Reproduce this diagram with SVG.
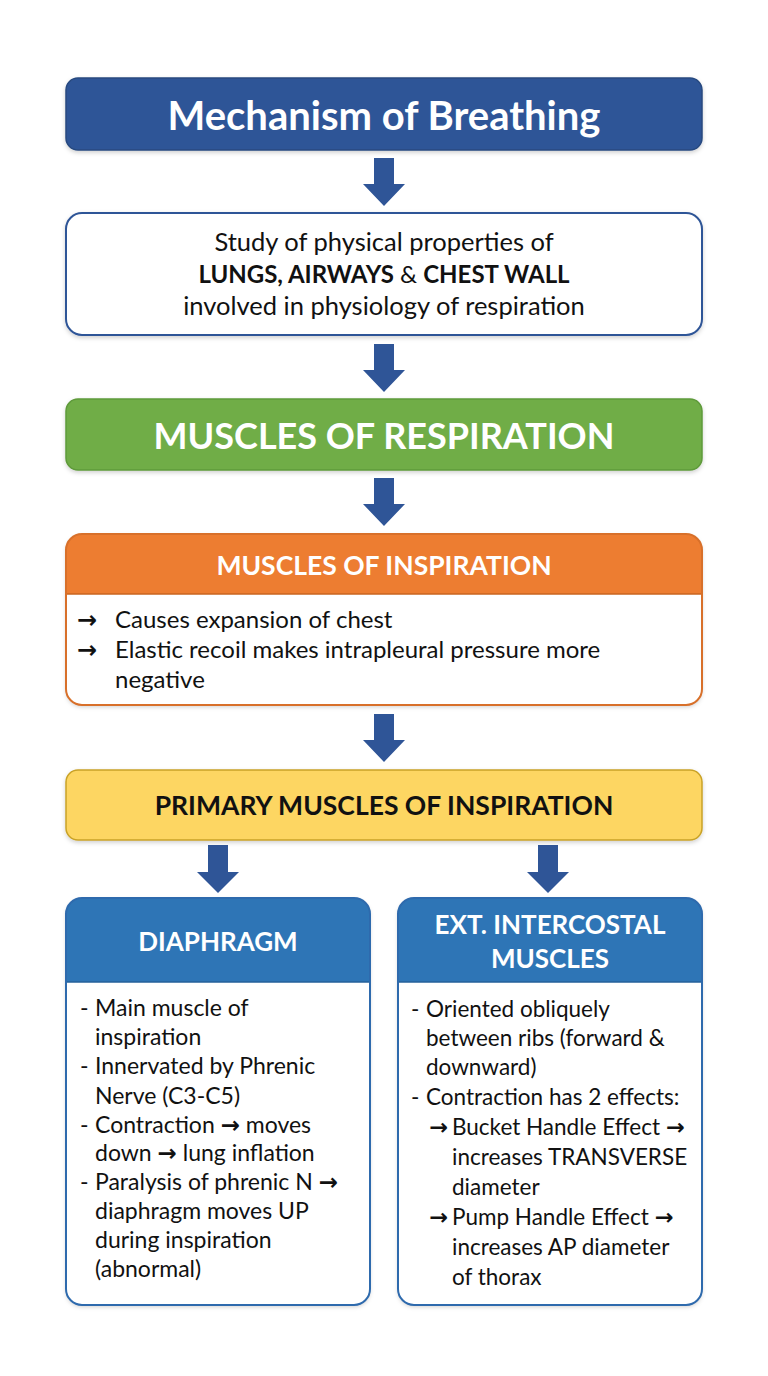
<svg xmlns="http://www.w3.org/2000/svg" width="768" height="1376" viewBox="0 0 768 1376">
<defs>
<filter id="sh" x="-5%" y="-5%" width="110%" height="115%">
<feDropShadow dx="0" dy="2" stdDeviation="2" flood-color="#000" flood-opacity="0.18"/>
</filter>
<clipPath id="cl"><rect x="66" y="898" width="304" height="407" rx="16"/></clipPath>
<clipPath id="cr"><rect x="398" y="898" width="304" height="407" rx="16"/></clipPath>
<clipPath id="co"><rect x="66" y="534" width="636" height="171" rx="16"/></clipPath>
</defs>
<style>
text{font-family:Lato,"Open Sans","DejaVu Sans",sans-serif;}
.c{text-anchor:middle;}
.w{fill:#fff;font-weight:bold;}
.b{fill:#111;font-size:23px;}
.r{fill:#111;font-size:22.5px;}
.o{fill:#111;font-size:24px;}
.a{font-family:"DejaVu Sans",sans-serif;font-weight:bold;}
.arr{fill:#2f5597;}
</style>
<rect width="768" height="1376" fill="#fff"/>

<g id="connectors" class="arr">
<path d="M374,158 H394 V184 H405 L384,206 L363,184 H374 Z"/>
<path d="M374,344 H394 V370 H405 L384,392 L363,370 H374 Z"/>
<path d="M374,478 H394 V504 H405 L384,526 L363,504 H374 Z"/>
<path d="M374,714 H394 V740 H405 L384,762 L363,740 H374 Z"/>
<path d="M208,845 H228 V872 H239 L218,893 L197,872 H208 Z"/>
<path d="M538,845 H558 V872 H569 L548,893 L527,872 H538 Z"/>
</g>

<g id="title">
<rect x="66" y="78" width="636" height="72" rx="12" fill="#2f5597" stroke="#284a80" stroke-width="1.5" filter="url(#sh)"/>
<text x="384" y="130" class="c w" font-size="40">Mechanism of Breathing</text>
</g>

<g id="definition">
<rect x="66" y="213" width="636" height="122" rx="16" fill="#fff" stroke="#2f5597" stroke-width="2" filter="url(#sh)"/>
<text x="384" y="251" class="c" font-size="25.5" fill="#111">Study of physical properties of</text>
<text x="384" y="283" class="c" font-size="24" fill="#111"><tspan font-weight="bold">LUNGS, AIRWAYS</tspan> &amp; <tspan font-weight="bold">CHEST WALL</tspan></text>
<text x="384" y="315" class="c" font-size="25.5" fill="#111">involved in physiology of respiration</text>
</g>

<g id="muscles-respiration">
<rect x="66" y="399" width="636" height="71" rx="12" fill="#70ad47" stroke="#5e9a3a" stroke-width="1.5" filter="url(#sh)"/>
<text x="384" y="449" class="c w" font-size="36">MUSCLES OF RESPIRATION</text>
</g>

<g id="muscles-inspiration">
<rect x="66" y="534" width="636" height="171" rx="16" fill="#fff" filter="url(#sh)"/>
<rect x="66" y="534" width="636" height="60" fill="#ed7d31" clip-path="url(#co)"/>
<line x1="66" y1="594" x2="702" y2="594" stroke="#c9641f" stroke-width="1.5"/>
<rect x="66" y="534" width="636" height="171" rx="16" fill="none" stroke="#d8702a" stroke-width="2"/>
<text x="384" y="575" class="c w" font-size="26.5">MUSCLES OF INSPIRATION</text>
<text x="77" y="628" class="o a">→</text>
<text x="115" y="628" class="o">Causes expansion of chest</text>
<text x="77" y="658" class="o a">→</text>
<text x="115" y="658" class="o">Elastic recoil makes intrapleural pressure more</text>
<text x="115" y="688" class="o">negative</text>
</g>

<g id="primary">
<rect x="66" y="770" width="636" height="70" rx="12" fill="#fdd662" stroke="#c9a227" stroke-width="1.5" filter="url(#sh)"/>
<text x="384" y="815" class="c" font-size="26.5" font-weight="bold" fill="#111">PRIMARY MUSCLES OF INSPIRATION</text>
</g>

<g id="diaphragm">
<rect x="66" y="898" width="304" height="407" rx="16" fill="#fff" filter="url(#sh)"/>
<rect x="66" y="898" width="304" height="84" fill="#2e75b6" clip-path="url(#cl)"/>
<line x1="66" y1="982" x2="370" y2="982" stroke="#24609a" stroke-width="1.5"/>
<rect x="66" y="898" width="304" height="407" rx="16" fill="none" stroke="#2e6aad" stroke-width="2"/>
<text x="218" y="951" class="c w" font-size="26">DIAPHRAGM</text>
<text x="80" y="1016" class="b">-</text><text x="95" y="1016" class="b">Main muscle of</text>
<text x="95" y="1045" class="b">inspiration</text>
<text x="80" y="1074" class="b">-</text><text x="95" y="1074" class="b">Innervated by Phrenic</text>
<text x="95" y="1104" class="b">Nerve (C3-C5)</text>
<text x="80" y="1133" class="b">-</text><text x="95" y="1133" class="b">Contraction <tspan class="a">→</tspan> moves</text>
<text x="95" y="1161" class="b">down <tspan class="a">→</tspan> lung inflation</text>
<text x="80" y="1190" class="b">-</text><text x="95" y="1190" class="b">Paralysis of phrenic N <tspan class="a">→</tspan></text>
<text x="95" y="1219" class="b">diaphragm moves UP</text>
<text x="95" y="1248" class="b">during inspiration</text>
<text x="95" y="1277" class="b">(abnormal)</text>
</g>

<g id="intercostal">
<rect x="398" y="898" width="304" height="407" rx="16" fill="#fff" filter="url(#sh)"/>
<rect x="398" y="898" width="304" height="84" fill="#2e75b6" clip-path="url(#cr)"/>
<line x1="398" y1="982" x2="702" y2="982" stroke="#24609a" stroke-width="1.5"/>
<rect x="398" y="898" width="304" height="407" rx="16" fill="none" stroke="#2e6aad" stroke-width="2"/>
<text x="550" y="934" class="c w" font-size="26">EXT. INTERCOSTAL</text>
<text x="550" y="968" class="c w" font-size="26">MUSCLES</text>
<text x="411" y="1017" class="r">-</text><text x="426" y="1017" class="r">Oriented obliquely</text>
<text x="426" y="1046" class="r">between ribs (forward &amp;</text>
<text x="426" y="1075" class="r">downward)</text>
<text x="411" y="1105" class="r">-</text><text x="426" y="1105" class="r">Contraction has 2 effects:</text>
<text x="429" y="1135" class="r a">→</text><text x="452" y="1135" class="r">Bucket Handle Effect <tspan class="a">→</tspan></text>
<text x="452" y="1165" class="r">increases TRANSVERSE</text>
<text x="452" y="1195" class="r">diameter</text>
<text x="429" y="1225" class="r a">→</text><text x="452" y="1225" class="r">Pump Handle Effect <tspan class="a">→</tspan></text>
<text x="452" y="1255" class="r">increases AP diameter</text>
<text x="452" y="1285" class="r">of thorax</text>
</g>
</svg>
